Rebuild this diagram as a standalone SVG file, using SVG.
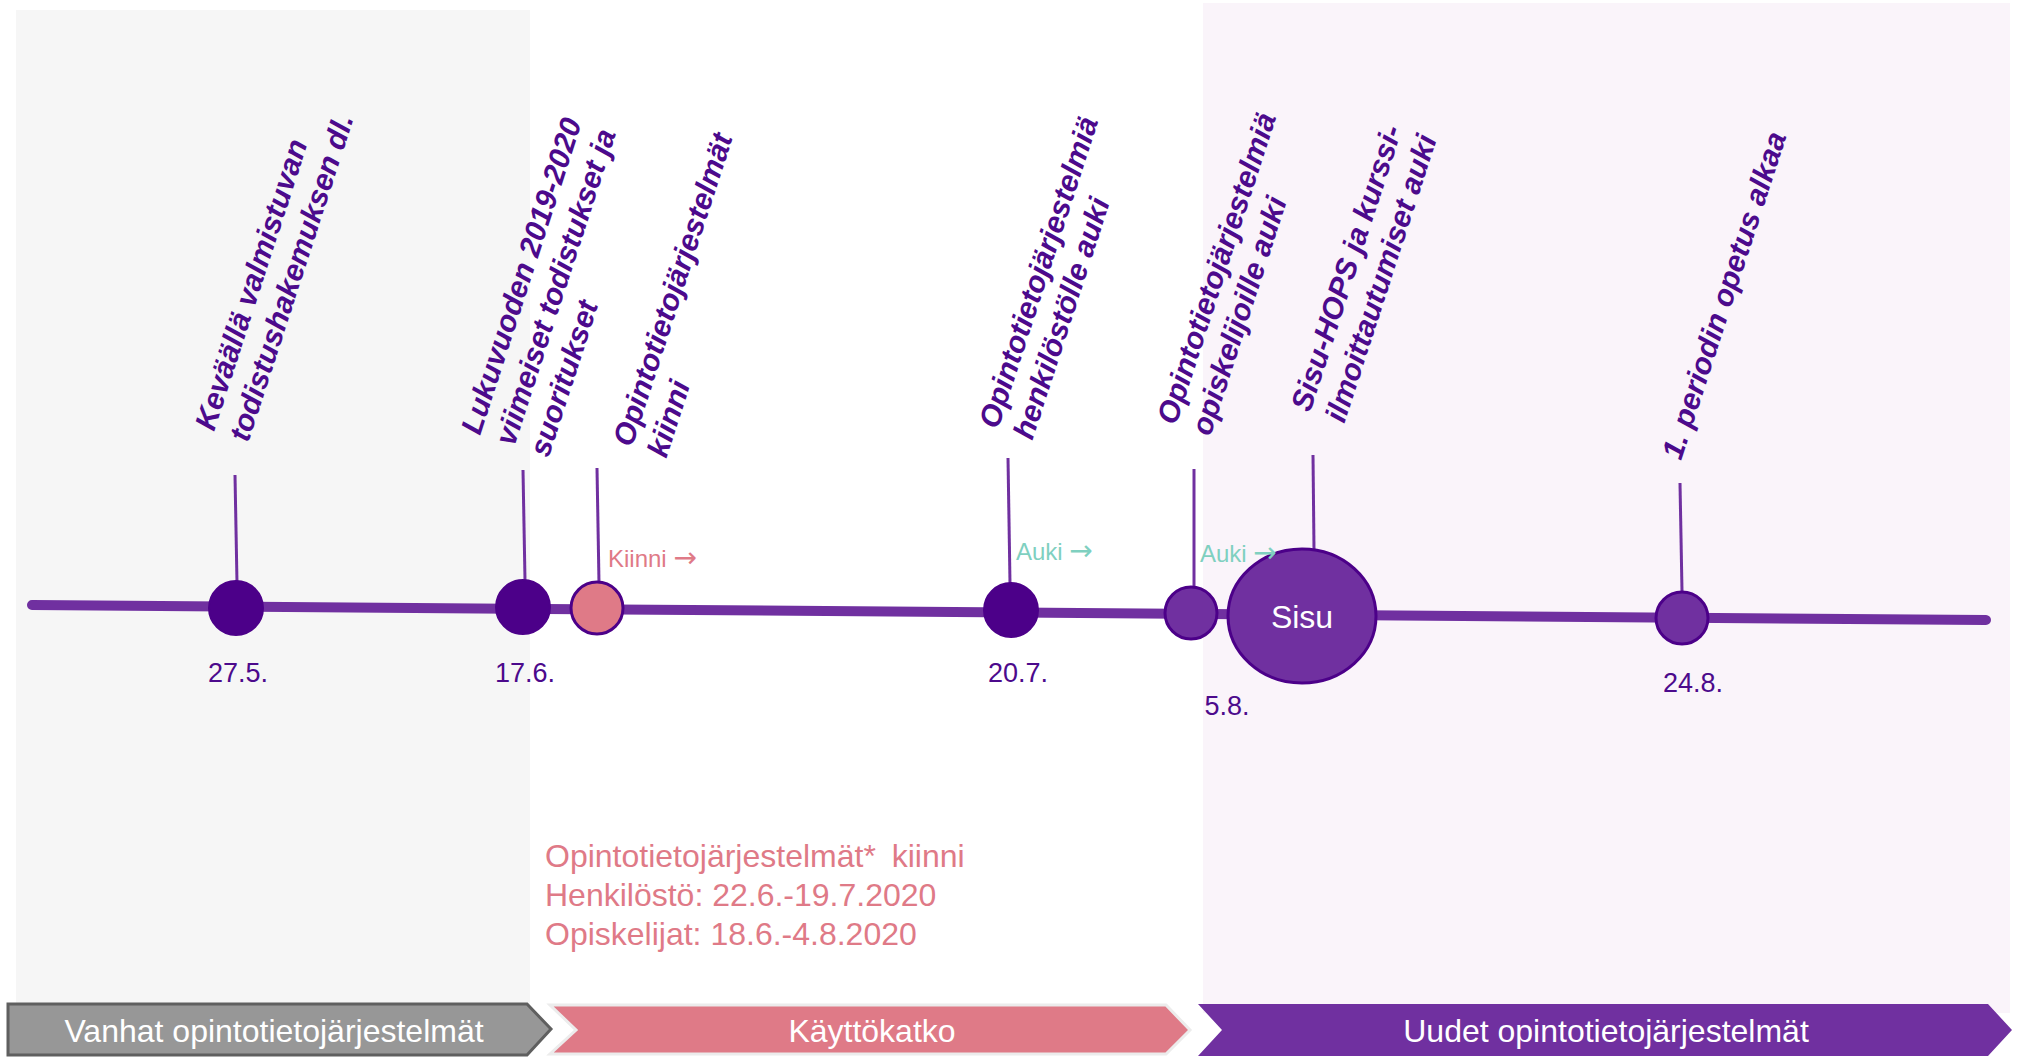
<svg xmlns="http://www.w3.org/2000/svg" width="2022" height="1057" viewBox="0 0 2022 1057">
<style>
.lbl{font-family:"Liberation Sans",Arial,sans-serif;font-weight:bold;font-style:italic;font-size:30px;fill:#4c0a8c}
.date{font-family:"Liberation Sans",Arial,sans-serif;font-size:27px;fill:#4c0a8c;text-anchor:middle}
.tick{stroke:#7030a0;stroke-width:3;fill:none}
.dot{fill:#4c0089;stroke:#4c0089;stroke-width:2}
.dotl{fill:#7030a0;stroke:#4c0089;stroke-width:3}
.band{font-family:"Liberation Sans",Arial,sans-serif;font-size:32px;fill:#ffffff;text-anchor:middle}
.note{font-family:"Liberation Sans",Arial,sans-serif;font-size:32px;fill:#df7a87}
.small{font-family:"Liberation Sans",Arial,sans-serif;font-size:24px}
.arr{font-family:"DejaVu Sans",sans-serif;font-size:28px}
</style>
<rect width="2022" height="1057" fill="#ffffff"/>
<g id="backgrounds">
<rect x="16" y="10" width="514" height="994" fill="#f6f6f6"/>
<rect x="1203" y="3" width="807" height="1010" fill="#faf4fa"/>
</g>
<g id="phase-old">
<polygon points="8,1004 527,1004 551,1029 527,1055 8,1055" fill="#979797" stroke="#5f5f5f" stroke-width="3"/>
<text class="band" x="274" y="1042">Vanhat opintotietojärjestelmät</text>
</g>
<g id="phase-break">
<polygon points="550,1005 1166,1005 1190,1030 1166,1054 550,1054 576,1030" fill="#df7a87" stroke="#ececec" stroke-width="3"/>
<text class="band" x="872" y="1042">Käyttökatko</text>
</g>
<g id="phase-new">
<polygon points="1198,1004 1988,1004 2012,1030 1988,1056 1198,1056 1222,1030" fill="#7030a0"/>
<text class="band" x="1606" y="1042">Uudet opintotietojärjestelmät</text>
</g>
<g id="connectors">
<line x1="32" y1="605" x2="1986" y2="620" stroke="#7030a0" stroke-width="10" stroke-linecap="round"/>
<line class="tick" x1="235" y1="475" x2="237" y2="583" stroke="#8f62bd"/>
<line class="tick" x1="523" y1="470" x2="525" y2="580"/>
<line class="tick" x1="597" y1="468" x2="599" y2="583"/>
<line class="tick" x1="1008" y1="458" x2="1010" y2="583"/>
<line class="tick" x1="1194" y1="469" x2="1194" y2="586"/>
<line class="tick" x1="1313" y1="455" x2="1314" y2="549"/>
<line class="tick" x1="1680" y1="483" x2="1682" y2="591"/>
</g>
<g id="n-27-5">
<circle class="dot" cx="236" cy="608" r="27"/>
<text class="date" x="238" y="682">27.5.</text>
<text class="lbl" transform="translate(214,432) rotate(-72)"><tspan x="0" y="0">Keväällä valmistuvan</tspan><tspan x="0" dy="36">todistushakemuksen dl.</tspan></text>
</g>
<g id="n-17-6">
<circle class="dot" cx="523" cy="607" r="27"/>
<text class="date" x="525" y="682">17.6.</text>
<text class="lbl" transform="translate(480,436) rotate(-72)"><tspan x="0" y="0">Lukuvuoden 2019-2020</tspan><tspan x="0" dy="36">viimeiset todistukset ja</tspan><tspan x="0" dy="36">suoritukset</tspan></text>
</g>
<g id="n-closed">
<circle cx="597" cy="608" r="26" fill="#df7a87" stroke="#4c0089" stroke-width="3"/>
<text class="small" x="608" y="567" fill="#df7a87">Kiinni <tspan class="arr">→</tspan></text>
<text class="lbl" transform="translate(632,448) rotate(-72)"><tspan x="0" y="0">Opintotietojärjestelmät</tspan><tspan x="0" dy="36">kiinni</tspan></text>
</g>
<g id="n-20-7">
<circle class="dot" cx="1011" cy="610" r="27"/>
<text class="date" x="1018" y="682">20.7.</text>
<text class="small" x="1016" y="560" fill="#7fd0c0">Auki <tspan class="arr">→</tspan></text>
<text class="lbl" transform="translate(998,430) rotate(-72)"><tspan x="0" y="0">Opintotietojärjestelmiä</tspan><tspan x="0" dy="36">henkilöstölle auki</tspan></text>
</g>
<g id="n-sisu">
<ellipse class="dotl" cx="1302" cy="616" rx="74" ry="67"/>
<text class="band" x="1302" y="628">Sisu</text>
<text class="lbl" transform="translate(1310,413) rotate(-72)"><tspan x="0" y="0">Sisu-HOPS ja kurssi-</tspan><tspan x="0" dy="36">ilmoittautumiset auki</tspan></text>
</g>
<g id="n-5-8">
<circle class="dotl" cx="1191" cy="613" r="26"/>
<text class="date" x="1227" y="715">5.8.</text>
<text class="small" x="1200" y="562" fill="#7fd0c0">Auki <tspan class="arr">→</tspan></text>
<text class="lbl" transform="translate(1176,426) rotate(-72)"><tspan x="0" y="0">Opintotietojärjestelmiä</tspan><tspan x="0" dy="36">opiskelijoille auki</tspan></text>
</g>
<g id="n-24-8">
<circle class="dotl" cx="1682" cy="618" r="26"/>
<text class="date" x="1693" y="692">24.8.</text>
<text class="lbl" transform="translate(1681,461) rotate(-72)">1. periodin opetus alkaa</text>
</g>
<g id="note">
<text class="note" x="545" y="867">Opintotietojärjestelmät* <tspan dx="7">kiinni</tspan></text>
<text class="note" x="545" y="906">Henkilöstö: 22.6.-19.7.2020</text>
<text class="note" x="545" y="945">Opiskelijat: 18.6.-4.8.2020</text>
</g>
</svg>
